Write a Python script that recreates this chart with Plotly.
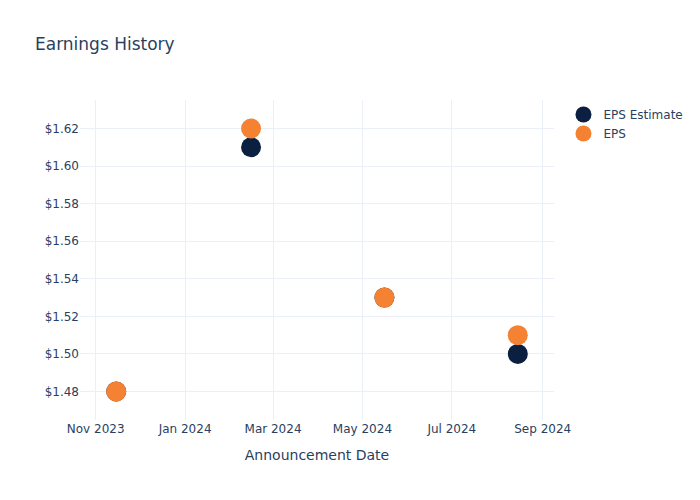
import plotly.graph_objects as go

dates = ["2023-11-15", "2024-02-15", "2024-05-16", "2024-08-15"]
eps_estimate = [1.48, 1.61, 1.53, 1.50]
eps_actual = [1.48, 1.62, 1.53, 1.51]

fig = go.Figure()
fig.add_trace(go.Scatter(x=dates, y=eps_estimate, mode="markers", name="EPS Estimate",
                         marker=dict(size=20, color="#0B1F40")))
fig.add_trace(go.Scatter(x=dates, y=eps_actual, mode="markers", name="EPS",
                         marker=dict(size=20, color="#F58233")))
fig.update_layout(
    template="plotly_white",
    width=700, height=500,
    font=dict(family="DejaVu Sans"),
    title=dict(text="Earnings History"),
    xaxis=dict(title=dict(text="Announcement Date"), tickformat="%b %Y", dtick="M2"),
    yaxis=dict(tickformat="$.2f"),
)
fig.write_html("out.html")
